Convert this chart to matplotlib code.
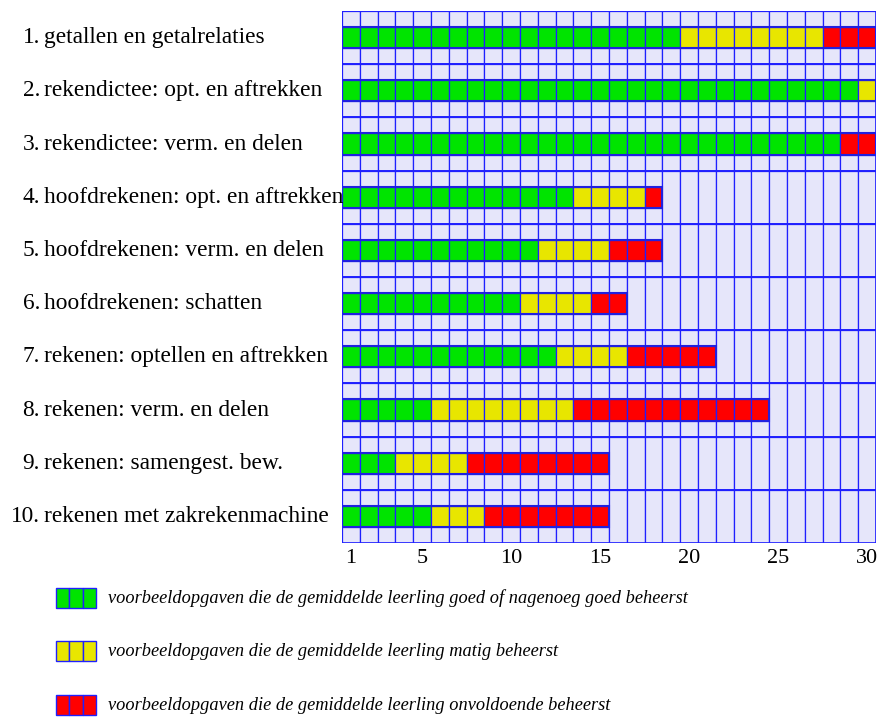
import numpy as np
import matplotlib
matplotlib.use("Agg")
from matplotlib import pyplot as plt
from matplotlib.patches import Rectangle

# data
numbers = ["1.", "2.", "3.", "4.", "5.", "6.", "7.", "8.", "9.", "10."]
labels = ["getallen en getalrelaties",
          "rekendictee: opt. en aftrekken",
          "rekendictee: verm. en delen",
          "hoofdrekenen: opt. en aftrekken",
          "hoofdrekenen: verm. en delen",
          "hoofdrekenen: schatten",
          "rekenen: optellen en aftrekken",
          "rekenen: verm. en delen",
          "rekenen: samengest. bew.",
          "rekenen met zakrekenmachine"]
goed = [19, 29, 28, 13, 11, 10, 12, 5, 3, 5]
matig = [8, 1, 0, 4, 4, 4, 4, 8, 4, 3]
onvoldoende = [3, 0, 2, 1, 3, 2, 5, 11, 8, 7]
tick_vals = [1, 5, 10, 15, 20, 25, 30]
legend_texts = ["voorbeeldopgaven die de gemiddelde leerling goed of nagenoeg goed beheerst",
                "voorbeeldopgaven die de gemiddelde leerling matig beheerst",
                "voorbeeldopgaven die de gemiddelde leerling onvoldoende beheerst"]

ncols = 30
green, yellow, red = "#00e400", "#e8e600", "#ff0000"
bg = "#e6e6fa"
line = "#1f1fff"
serif = ["Liberation Serif", "DejaVu Serif"]

W, H = 877, 719
fig = plt.figure(figsize=(W / 100, H / 100), dpi=100)

# grid axes
x0, x1, ytop, ybot = 342, 876, 11, 543
aw = x1 - x0
ax = fig.add_axes([x0 / W, 1 - ybot / H, aw / W, (ybot - ytop) / H])
ax.set_xlim(0, ncols)
ax.set_ylim(len(labels), 0)
for s in ax.spines.values():
    s.set_visible(False)

t0, t1 = 0.30, 0.70
for i in range(len(labels)):
    segs = [green] * goed[i] + [yellow] * matig[i] + [red] * onvoldoende[i]
    n = len(segs)
    for c in range(ncols):
        if c < n:
            ax.add_patch(Rectangle((c, i), 1, t0, fc=bg, ec=line, lw=0.9))
            ax.add_patch(Rectangle((c, i + t0), 1, t1 - t0, fc=segs[c], ec=line, lw=0.9))
            ax.add_patch(Rectangle((c, i + t1), 1, 1 - t1, fc=bg, ec=line, lw=0.9))
        else:
            ax.add_patch(Rectangle((c, i), 1, 1, fc=bg, ec=line, lw=0.9))
    ax.add_patch(Rectangle((0, i + t0), n, t1 - t0, fc="none", ec="#2020e0", lw=1.5))
    ax.add_patch(Rectangle((0, i), ncols, 1, fc="none", ec=line, lw=1.2))

    ax.text((40 - x0) / aw, i + 0.5, numbers[i], transform=ax.get_yaxis_transform(),
            ha="right", va="center", fontsize=16.8, family=serif)
    ax.text((44 - x0) / aw, i + 0.5, labels[i], transform=ax.get_yaxis_transform(),
            ha="left", va="center", fontsize=16.8, family=serif)

ax.set_yticks([])
ax.set_xticks([v - 0.5 for v in tick_vals])
ax.set_xticklabels([str(v) for v in tick_vals], fontsize=16, family=serif)
ax.tick_params(axis="x", length=0, pad=4)

# legend
lax = fig.add_axes([0, 0, 1, 1], zorder=-1)
lax.set_xlim(0, W)
lax.set_ylim(H, 0)
lax.axis("off")
for k, (col, txt) in enumerate(zip([green, yellow, red], legend_texts)):
    yc = 597.5 + k * 53.5
    for j in range(3):
        lax.add_patch(Rectangle((56 + j * 13.3, yc - 10), 13.3, 20, fc=col, ec=line, lw=1.0))
    lax.text(108, yc + 1, txt, ha="left", va="center", fontsize=13.2,
             style="italic", family=serif)

fig.savefig("out.png", dpi=100)
